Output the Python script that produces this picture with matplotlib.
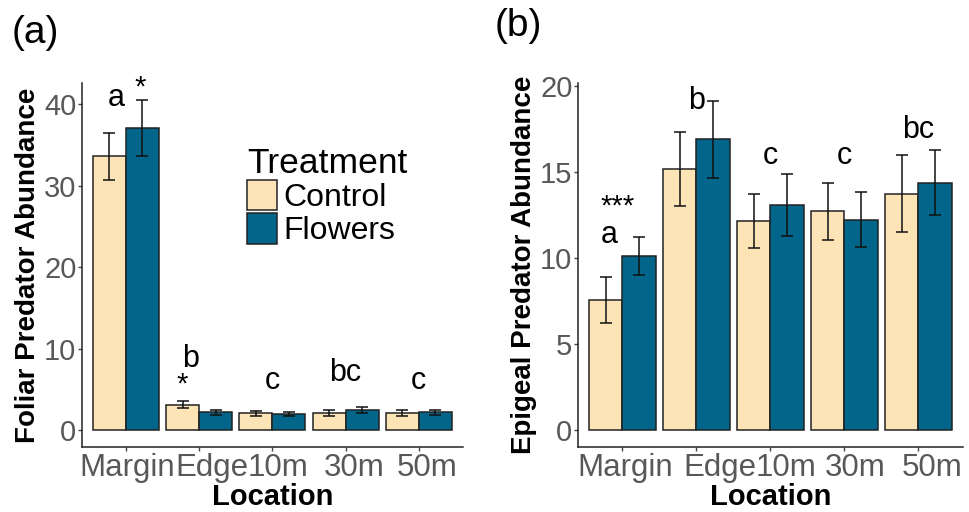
import numpy as np
import matplotlib.pyplot as plt
from matplotlib.transforms import ScaledTranslation

plt.rcParams['font.family'] = ['Liberation Sans', 'DejaVu Sans']

locations = ['Margin', 'Edge', '10m', '30m', '50m']
treatments = ['Control', 'Flowers']

# foliar predators: means and standard errors
foliar_control = [33.6, 3.15, 2.1, 2.1, 2.1]
foliar_control_se = [2.85, 0.4, 0.3, 0.35, 0.35]
foliar_flowers = [37.1, 2.2, 2.0, 2.5, 2.2]
foliar_flowers_se = [3.4, 0.3, 0.3, 0.4, 0.3]
foliar_letters = ['a', 'b', 'c', 'bc', 'c']
foliar_letter_y = [40.7, 8.8, 6.1, 7.0, 6.1]

# epigeal predators: means and standard errors
epigeal_control = [7.55, 15.17, 12.16, 12.7, 13.72]
epigeal_control_se = [1.35, 2.15, 1.57, 1.66, 2.23]
epigeal_flowers = [10.12, 16.87, 13.04, 12.21, 14.36]
epigeal_flowers_se = [1.1, 2.25, 1.8, 1.6, 1.9]
epigeal_letters = ['a', 'b', 'c', 'c', 'bc']
epigeal_letter_y = [11.3, 19.1, 15.9, 15.9, 17.4]

colors = ['#FCE4B6', '#02668A']
text_gray = '#585858'


def draw_panel(ax, control, control_se, flowers, flowers_se, ylim, yticks, ylabel, label_shift):
    x = np.arange(1, len(locations) + 1)
    w = 0.45
    for vals, se, off, c in [(control, control_se, -w / 2, colors[0]),
                             (flowers, flowers_se, w / 2, colors[1])]:
        ax.bar(x + off, vals, width=w, color=c, edgecolor='#222222', linewidth=1.1, zorder=2)
        ax.errorbar(x + off, vals, yerr=se, fmt='none', ecolor='#111111',
                    elinewidth=1.1, capsize=4, capthick=1.1, zorder=3)
    ax.set_xlim(0.4, 5.6)
    ax.set_ylim(*ylim)
    ax.set_xticks(x)
    ax.set_xticklabels(locations)
    ax.set_yticks(yticks)
    for s in ['top', 'right']:
        ax.spines[s].set_visible(False)
    for s in ['left', 'bottom']:
        ax.spines[s].set_color('#222222')
        ax.spines[s].set_linewidth(1.1)
    ax.tick_params(axis='both', labelcolor=text_gray, color='#444444',
                   length=3, width=1, pad=1)
    ax.tick_params(axis='x', labelsize=22.5, pad=1)
    ax.tick_params(axis='y', labelsize=21)
    # category labels are set a little right of their ticks
    for lab, dx in zip(ax.get_xticklabels(), label_shift):
        lab.set_transform(lab.get_transform() + ScaledTranslation(dx / 100, 0, fig.dpi_scale_trans))
    ax.set_xlabel('Location', fontsize=21, fontweight='bold', labelpad=0)
    ax.set_ylabel(ylabel, fontsize=20, fontweight='bold', labelpad=2)
    return x


fig = plt.figure(figsize=(9.69, 5.12), dpi=100)
ax1 = fig.add_axes([0.0846, 0.127, 0.393, 0.711])
ax2 = fig.add_axes([0.5965, 0.127, 0.397, 0.711])

# nudges so the letters sit where they were placed on the figure
foliar_dx = [-0.13, -0.12, 0, 0, 0]
epigeal_dx = [-0.18, 0, 0, 0, 0]

x = draw_panel(ax1, foliar_control, foliar_control_se, foliar_flowers, foliar_flowers_se,
               (-2.05, 42.6), [0, 10, 20, 30, 40], 'Foliar Predator Abundance',
               [1, 13, 6, 9, 8])
for xi, dx, lab, yy in zip(x, foliar_dx, foliar_letters, foliar_letter_y):
    ax1.text(xi + dx, yy, lab, fontsize=22, ha='center', va='center')
ax1.text(1.2, 42.0, '*', fontsize=21, ha='center', va='center')
ax1.text(1.77, 5.6, '*', fontsize=21, ha='center', va='center')

x = draw_panel(ax2, epigeal_control, epigeal_control_se, epigeal_flowers, epigeal_flowers_se,
               (-0.98, 20.15), [0, 5, 10, 15, 20], 'Epigeal Predator Abundance',
               [3, 24, 16, 11, 14])
for xi, dx, lab, yy in zip(x, epigeal_dx, epigeal_letters, epigeal_letter_y):
    ax2.text(xi + dx, yy, lab, fontsize=22, ha='center', va='center')
ax2.text(0.93, 13.0, '***', fontsize=21, ha='center', va='center')

# legend
handles = [plt.Rectangle((0, 0), 1, 1, facecolor=c, edgecolor='#222222', linewidth=1.1)
           for c in colors]
leg = ax1.legend(handles, treatments, title='Treatment', fontsize=23, title_fontsize=25.5,
                 frameon=False, loc='upper left', bbox_to_anchor=(0.4, 0.86),
                 handlelength=0.95, handleheight=1.1, handletextpad=0.2,
                 labelspacing=0.0, borderaxespad=0)
leg._legend_box.align = 'left'

fig.text(0.012, 0.97, '(a)', fontsize=28, ha='left', va='top')
fig.text(0.51, 0.985, '(b)', fontsize=28, ha='left', va='top')

fig.savefig('out.png', dpi=100)
